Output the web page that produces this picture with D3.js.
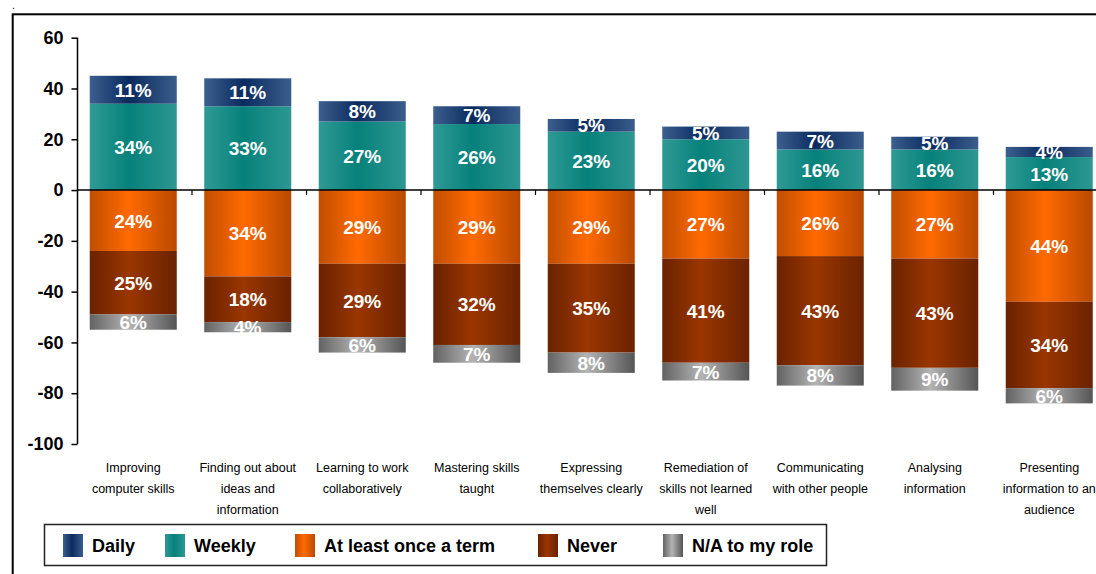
<!DOCTYPE html>
<html>
<head>
<meta charset="utf-8">
<script src="https://cdn.jsdelivr.net/npm/d3@7"></script>
<style>
  html, body { margin: 0; padding: 0; background: #fff; }
  svg { display: block; }
  text { font-family: Arial, "Liberation Sans", Helvetica, sans-serif; }
</style>
</head>
<body>
<svg id="chart" width="1096" height="574"></svg>
<script>
// Categories (line breaks are drawn as separate lines)
const categories = [
  "Improving\ncomputer skills",
  "Finding out about\nideas and\ninformation",
  "Learning to work\ncollaboratively",
  "Mastering skills\ntaught",
  "Expressing\nthemselves clearly",
  "Remediation of\nskills not learned\nwell",
  "Communicating\nwith other people",
  "Analysing\ninformation",
  "Presenting\ninformation to an\naudience"
];

const seriesNames = ["Daily", "Weekly", "At least once a term", "Never", "N/A to my role"];

// Percentages per category
const daily  = [11, 11, 8, 7, 5, 5, 7, 5, 4];
const weekly = [34, 33, 27, 26, 23, 20, 16, 16, 13];
const term   = [24, 34, 29, 29, 29, 27, 26, 27, 44];
const never  = [25, 18, 29, 32, 35, 41, 43, 43, 34];
const na     = [6, 4, 6, 7, 8, 7, 8, 9, 6];

const yTicks = [60, 40, 20, 0, -20, -40, -60, -80, -100];

// Gradient stops per series: edge, centre, edge
const gradients = [
  { id: "g-daily",  stops: ["#3b5f8e", "#0b2b5f", "#3a5d8c"] },
  { id: "g-weekly", stops: ["#2f9a95", "#07817b", "#2e9792"] },
  { id: "g-term",   stops: ["#c04e00", "#ff6a00", "#b94900"] },
  { id: "g-never",  stops: ["#6a2200", "#9a3600", "#6a2200"] },
  { id: "g-na",     stops: ["#626262", "#b4b4b4", "#555555"] }
];

const svg = d3.select("#chart");

const defs = svg.append("defs");
gradients.forEach(g => {
  const lg = defs.append("linearGradient")
    .attr("id", g.id).attr("x1", "0").attr("x2", "1").attr("y1", "0").attr("y2", "0");
  lg.append("stop").attr("offset", "0%").attr("stop-color", g.stops[0]);
  lg.append("stop").attr("offset", "45%").attr("stop-color", g.stops[1]);
  lg.append("stop").attr("offset", "100%").attr("stop-color", g.stops[2]);
});

// Outer frame (runs off the right and bottom of the canvas)
svg.append("text").attr("x", 12).attr("y", 9).attr("font-size", 10).text(".");
svg.append("rect")
  .attr("x", 12.7).attr("y", 14.3).attr("width", 1200).attr("height", 700)
  .attr("fill", "none").attr("stroke", "#000").attr("stroke-width", 2);

// Scales
const x = d3.scaleBand()
  .domain(categories)
  .range([76, 76 + 9 * 114.5])
  .paddingInner(0.24)
  .paddingOuter(0.12);

const y = d3.scaleLinear().domain([-100, 60]).range([444, 37.7]);

// Build stacked segments
const segs = [];
categories.forEach((c, i) => {
  const vals = [daily[i], weekly[i], term[i], never[i], na[i]];
  // positive side: weekly from 0, daily on top
  segs.push({ c, s: 1, y0: 0, y1: weekly[i], v: weekly[i] });
  segs.push({ c, s: 0, y0: weekly[i], y1: weekly[i] + daily[i], v: daily[i] });
  // negative side: term, never, n/a
  let acc = 0;
  [2, 3, 4].forEach(s => {
    segs.push({ c, s, y0: -acc, y1: -(acc + vals[s]), v: vals[s] });
    acc += vals[s];
  });
});

const g = svg.append("g");
g.selectAll("rect.seg").data(segs).join("rect")
  .attr("class", "seg")
  .attr("x", d => x(d.c))
  .attr("width", x.bandwidth())
  .attr("y", d => y(Math.max(d.y0, d.y1)))
  .attr("height", d => Math.abs(y(d.y0) - y(d.y1)))
  .attr("fill", d => `url(#${gradients[d.s].id})`);

// Value labels
g.selectAll("text.val").data(segs).join("text")
  .attr("class", "val")
  .attr("x", d => x(d.c) + x.bandwidth() / 2)
  .attr("y", d => y((d.y0 + d.y1) / 2) + 7)
  .attr("text-anchor", "middle")
  .attr("fill", "#fff")
  .attr("font-weight", "bold")
  .attr("font-size", 19)
  .text(d => d.v + "%");

// Y axis
const yAxis = d3.axisLeft(y).tickValues(yTicks).tickFormat(d => String(d))
  .tickSize(6).tickPadding(8).tickSizeOuter(0);
const ya = svg.append("g").attr("transform", "translate(77.5,0)").call(yAxis);
ya.select(".domain").attr("stroke", "#000").attr("stroke-width", 1.5).attr("d", `M0,${y(60)}V${y(-100)}`);
ya.selectAll(".tick line").attr("stroke", "#000").attr("stroke-width", 1.5);
ya.selectAll(".tick text")
  .attr("font-family", "Arial, 'Liberation Sans', sans-serif")
  .attr("font-size", 18).attr("font-weight", "bold").attr("fill", "#000");

// Zero line with category boundary ticks
const step = x.step();
const x0 = x.range()[0];
svg.append("line")
  .attr("x1", 77.5).attr("x2", 1110).attr("y1", y(0)).attr("y2", y(0))
  .attr("stroke", "#000").attr("stroke-width", 1.5);
svg.selectAll("line.ctick").data(d3.range(1, categories.length + 1)).join("line")
  .attr("class", "ctick")
  .attr("x1", k => x0 + k * step + 1.5).attr("x2", k => x0 + k * step + 1.5)
  .attr("y1", y(0)).attr("y2", y(0) + 5)
  .attr("stroke", "#000").attr("stroke-width", 1.2);

// Category labels
const cl = svg.selectAll("text.cat").data(categories).join("text")
  .attr("class", "cat")
  .attr("text-anchor", "middle")
  .attr("font-size", 12.5)
  .attr("fill", "#000")
  .attr("transform", d => `translate(${x(d) + x.bandwidth() / 2},472)`);
cl.selectAll("tspan").data(d => d.split("\n")).join("tspan")
  .attr("x", 0).attr("y", (d, i) => i * 21).text(d => d);

// Legend
const legend = svg.append("g");
legend.append("rect")
  .attr("x", 44.5).attr("y", 524.5).attr("width", 782).attr("height", 41)
  .attr("fill", "#fff").attr("stroke", "#222").attr("stroke-width", 1.5);
const legendX = [63, 165, 295, 538, 663];
const li = legend.selectAll("g.item").data(seriesNames).join("g")
  .attr("class", "item")
  .attr("transform", (d, i) => `translate(${legendX[i]},534)`);
li.append("rect").attr("width", 20).attr("height", 23)
  .attr("fill", (d, i) => `url(#${gradients[i].id})`);
li.append("text").attr("x", 29).attr("y", 18)
  .attr("font-size", 18).attr("font-weight", "bold").attr("fill", "#000")
  .text(d => d);
</script>
</body>
</html>
